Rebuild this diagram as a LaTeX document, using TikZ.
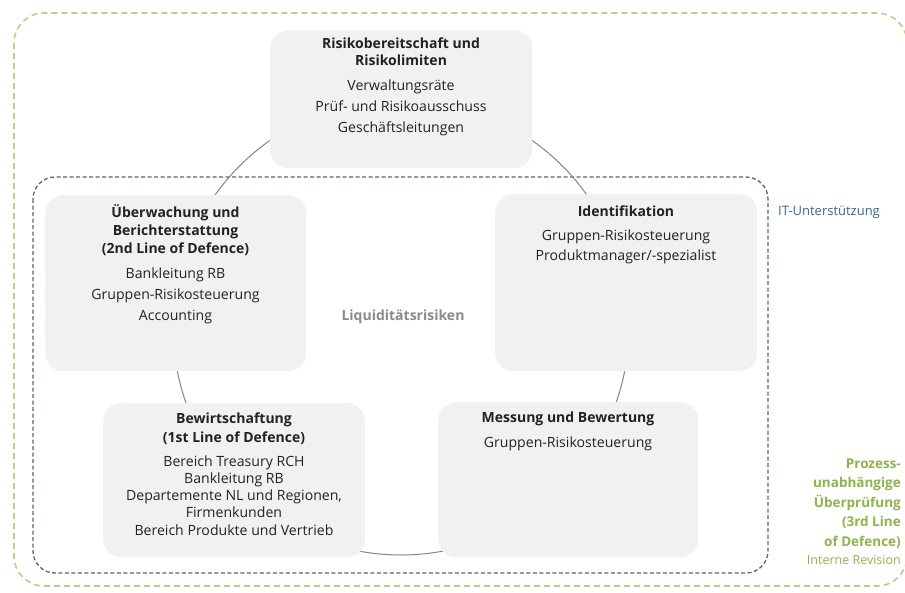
\documentclass[tikz,border=0pt]{standalone}
\usepackage{fontspec}
\setmainfont{Open Sans}
\definecolor{boxgray}{HTML}{F1F1F1}
\definecolor{linegray}{HTML}{858585}
\definecolor{outergreen}{HTML}{C2CC86}
\definecolor{innerblue}{HTML}{56627E}
\definecolor{labelgreen}{HTML}{8DB34D}
\definecolor{itblue}{HTML}{3A6690}
\definecolor{centergray}{HTML}{8A8A8A}
\definecolor{txt}{HTML}{222222}
\begin{document}
\begin{tikzpicture}[x=1pt,y=-1pt,
  stagebox/.style={fill=boxgray, rounded corners=18pt, draw=none, inner sep=0pt, anchor=north west},
  conn/.style={draw=linegray, line width=1pt},
  titletext/.style={anchor=north, align=center, inner sep=0pt, text=txt, font=\bfseries\fontsize{14}{#1}\selectfont},
  bodytext/.style={anchor=north, align=center, inner sep=0pt, text=txt, font=\fontsize{14.1}{#1}\selectfont},
  outerframe/.style={draw=outergreen, line width=1.6pt, dash pattern=on 6pt off 4pt, rounded corners=30pt},
  innerframe/.style={draw=innerblue, line width=1.3pt, dash pattern=on 4pt off 2.5pt, rounded corners=22pt}]
\useasboundingbox (0,0) rectangle (905,592);
% frames
\draw[outerframe] (14,13) rectangle (907,586);
\draw[innerframe] (33,177) rectangle (768,573);
% cycle connectors
\coordinate (ctr) at (401,327);
\draw[conn] ([shift={(90:228pt)}]ctr) arc[start angle=90, end angle=169, radius=228pt];
\draw[conn] ([shift={(169:228pt)}]ctr) arc[start angle=169, end angle=222.5, radius=228pt];
\draw[conn] ([shift={(222.5:228pt)}]ctr) arc[start angle=222.5, end angle=317.5, radius=228pt];
\draw[conn] ([shift={(317.5:228pt)}]ctr) arc[start angle=317.5, end angle=371, radius=228pt];
\draw[conn] ([shift={(11:228pt)}]ctr) arc[start angle=11, end angle=90, radius=228pt];
% boxes
\node[stagebox, minimum width=262pt, minimum height=138pt] (risk) at (270,30) {};
\node[stagebox, minimum width=261pt, minimum height=176pt] (ueber) at (45,195) {};
\node[stagebox, minimum width=262pt, minimum height=177pt] (ident) at (495,194) {};
\node[stagebox, minimum width=262pt, minimum height=154pt] (bewirt) at (103,403) {};
\node[stagebox, minimum width=260pt, minimum height=155pt] (mess) at (438,402) {};
% texts
\node[titletext=17] (riskT) at (401,36) {\strut Risikobereitschaft und\\Risikolimiten};
\node[bodytext=21] (riskB) at (401,75.3) {\strut Verwaltungsräte\\Prüf- und Risikoausschuss\\Geschäftsleitungen};
\node[titletext=18] (ueberT) at (175.5,204.4) {\strut Überwachung und\\Berichterstattung\\(2nd Line of Defence)};
\node[bodytext=21] (ueberB) at (175.5,263.3) {\strut Bankleitung RB\\Gruppen-Risikosteuerung\\Accounting};
\node[titletext=18] (identT) at (626,203.4) {\strut Identifikation};
\node[bodytext=20] (identB) at (626,226) {\strut Gruppen-Risikosteuerung\\Produktmanager/-spezialist};
\node[titletext=19] (bewirtT) at (234,409.7) {\strut Bewirtschaftung\\(1st Line of Defence)};
\node[bodytext=17.25] (bewirtB) at (234,453.9) {\strut Bereich Treasury RCH\\Bankleitung RB\\Departemente NL und Regionen,\\Firmenkunden\\Bereich Produkte und Vertrieb};
\node[titletext=19] (messT) at (568,409.4) {\strut Messung und Bewertung};
\node[bodytext=17] (messB) at (568,435) {\strut Gruppen-Risikosteuerung};
\node[inner sep=0pt, text=centergray, font=\bfseries\fontsize{14}{17}\selectfont] (liq) at (403,317) {Liquiditätsrisiken};
\node[inner sep=0pt, anchor=west, text=itblue, font=\fontsize{13}{16}\selectfont] (it) at (778,212) {IT-Unterstützung};
\node[inner sep=0pt, anchor=north east, align=right, text=labelgreen, font=\bfseries\fontsize{13.5}{19.5}\selectfont] (third) at (901,454.4) {\strut Prozess-\\unabhängige\\Überprüfung\\(3rd Line\\of Defence)};
\node[inner sep=0pt, anchor=base east, text=labelgreen, font=\fontsize{12.5}{15}\selectfont] (rev) at (901,564) {Interne Revision};
\end{tikzpicture}
\end{document}
